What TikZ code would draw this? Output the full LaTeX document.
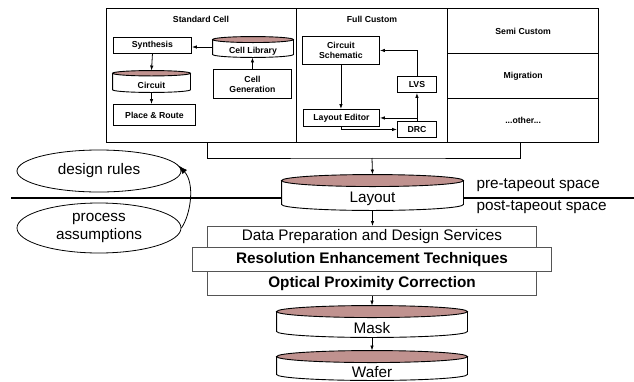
\documentclass[tikz,border=0pt]{standalone}
\usepackage{fontspec}
\setmainfont{Liberation Sans}
\usetikzlibrary{arrows.meta,shapes.geometric,positioning,calc,backgrounds}
\definecolor{cylend}{RGB}{192,146,143}
\definecolor{boxgray}{RGB}{85,85,85}

% drum (database cylinder) behind a named node: #1 node, #2 half height of the lid
\newcommand{\drum}[2]{%
  \draw[line width=0.9pt, fill=white] let \p1=(#1.north west), \p2=(#1.south east), \n1={(\x2-\x1)/2} in
    (\x1,\y1-#2pt) -- (\x1,\y2+#2pt) arc[start angle=180, end angle=360, x radius=\n1*1pt, y radius=#2pt] -- (\x2,\y1-#2pt);
  \draw[line width=0.9pt, fill=cylend] let \p1=(#1.north west), \p2=(#1.south east), \n1={(\x2-\x1)/2} in
    (\x1+\n1*1pt,\y1-#2pt) ellipse[x radius=\n1*1pt, y radius=#2pt];
}

\tikzset{
  small/.style={font=\fontsize{8.7}{10}\selectfont\bfseries, align=center},
  big/.style={font=\fontsize{15.3}{17.5}\selectfont, align=center},
  frame/.style={draw, line width=1.3pt, anchor=north west, inner sep=0pt, small},
  sbox/.style={draw, line width=0.9pt, anchor=north west, inner sep=0pt, small},
  bbox/.style={draw=boxgray, fill=white, line width=1pt, anchor=north west, inner sep=0pt, big},
  cyl/.style={rectangle, inner sep=0pt, line width=0.9pt},
  ell/.style={ellipse, draw, line width=0.8pt, inner sep=0pt, big},
  arr/.style={line width=0.8pt, -{Latex[length=5pt,width=3.5pt]}}
}

\begin{document}
\begin{tikzpicture}[x=1pt, y=-1pt]
\useasboundingbox (0,0) rectangle (634,381);

% design flow frame
\node[frame, minimum width=190, minimum height=134] (stdcell) at (106,8) {};
\node[frame, minimum width=151, minimum height=134] (fullcust) at (296,8) {};
\node[frame, minimum width=151, minimum height=45] (semi) at (447,8) {Semi Custom};
\node[frame, minimum width=151, minimum height=45] (migr) at (447,53) {Migration};
\node[frame, minimum width=151, minimum height=44] (other) at (447,98) {...other...};
\node[small] (stdtitle) at (201,19) {Standard Cell};
\node[small] (fulltitle) at (372,19) {Full Custom};

% standard cell
\node[sbox, minimum width=78, minimum height=16] (synth) at (113,37) {Synthesis};
\node[cyl, minimum width=80, minimum height=20, label={[small,yshift=-4pt]center:Cell Library}] (celllib) at (253,47) {};
\node[cyl, minimum width=77, minimum height=21, label={[small,yshift=-3.5pt]center:Circuit}] (circuit) at (151.5,81.5) {};
\node[sbox, minimum width=78, minimum height=29] (cellgen) at (213,69) {Cell\\Generation};
\node[sbox, minimum width=82, minimum height=21] (pr) at (113,104) {Place \& Route};
\draw[arr] (celllib.west) -- (synth.east |- celllib.west);
\draw[arr] (synth.south) -- (circuit.north);
\draw[arr] (circuit.south) -- (circuit.south |- pr.north);
\draw[arr] (cellgen.north) -- (cellgen.north |- celllib.south);

% full custom
\node[sbox, minimum width=77, minimum height=28] (schem) at (302,36) {Circuit\\Schematic};
\node[sbox, minimum width=76, minimum height=17] (editor) at (303,109) {Layout Editor};
\node[sbox, minimum width=39, minimum height=16] (lvs) at (397,76) {LVS};
\node[sbox, minimum width=39, minimum height=16] (drc) at (397,121) {DRC};
\draw[arr] (schem.south) -- (schem.south |- editor.north);
\draw[arr] (lvs.north) |- (schem.east);
\draw[arr] (drc.north) -- (lvs.south);
\draw[arr] (drc.north) |- (editor.east);
\draw[arr] (editor.south) |- (drc.west);

% collect the flows
\coordinate (brl) at (207,142);
\coordinate (brr) at (520,142);
\coordinate (fan) at (372,158);
\draw[line width=0.8pt] (brl) |- (fan) -| (brr);

% tapeout line
\coordinate (sepl) at (11,198);
\coordinate (sepr) at (634,198);
\node[big, anchor=west] (pre) at (473,185) {pre-tapeout space};
\node[big, anchor=west] (post) at (473,207) {post-tapeout space};

% inputs
\node[ell, minimum width=164, minimum height=42] (rules) at (99,171) {design rules};
\node[ell, minimum width=164, minimum height=50] (procs) at (99,228) {process\\assumptions};
\draw[line width=0.8pt, -{Latex[length=9pt,width=6pt]}] (procs.east) .. controls (191,214) and (195,183) .. (rules.4);

% post-tapeout flow
\node[cyl, minimum width=181, minimum height=35, label={[big,yshift=-6pt]center:Layout}] (layout) at (372.5,192.5) {};
\node[bbox, minimum width=329, minimum height=21] (dataprep) at (207,226) {Data Preparation and Design Services};
\node[bbox, minimum width=359, minimum height=24, font=\fontsize{15.3}{17.5}\selectfont\bfseries] (ret) at (192,247) {Resolution Enhancement Techniques};
\node[bbox, minimum width=329, minimum height=24, font=\fontsize{15.3}{17.5}\selectfont\bfseries] (opc) at (207,271) {Optical Proximity Correction};
\node[cyl, minimum width=190, minimum height=31, label={[big,yshift=-6.5pt]center:Mask}] (mask) at (372,321.5) {};
\node[cyl, minimum width=190, minimum height=29, label={[big,yshift=-7pt]center:Wafer}] (wafer) at (372,365.5) {};
\draw[arr] (fan) -- (layout.north);
\draw[arr] (layout.south) -- (layout.south |- dataprep.north);
\draw[arr] (opc.south -| mask.north) -- (mask.north);
\draw[arr] (mask.south) -- (wafer.north);

\begin{scope}[on background layer]
\draw[line width=1.5pt] (sepl) -- (sepr);
\drum{celllib}{3}
\drum{circuit}{2.7}
\drum{layout}{6}
\drum{mask}{6}
\drum{wafer}{6}
\end{scope}
\end{tikzpicture}
\end{document}
